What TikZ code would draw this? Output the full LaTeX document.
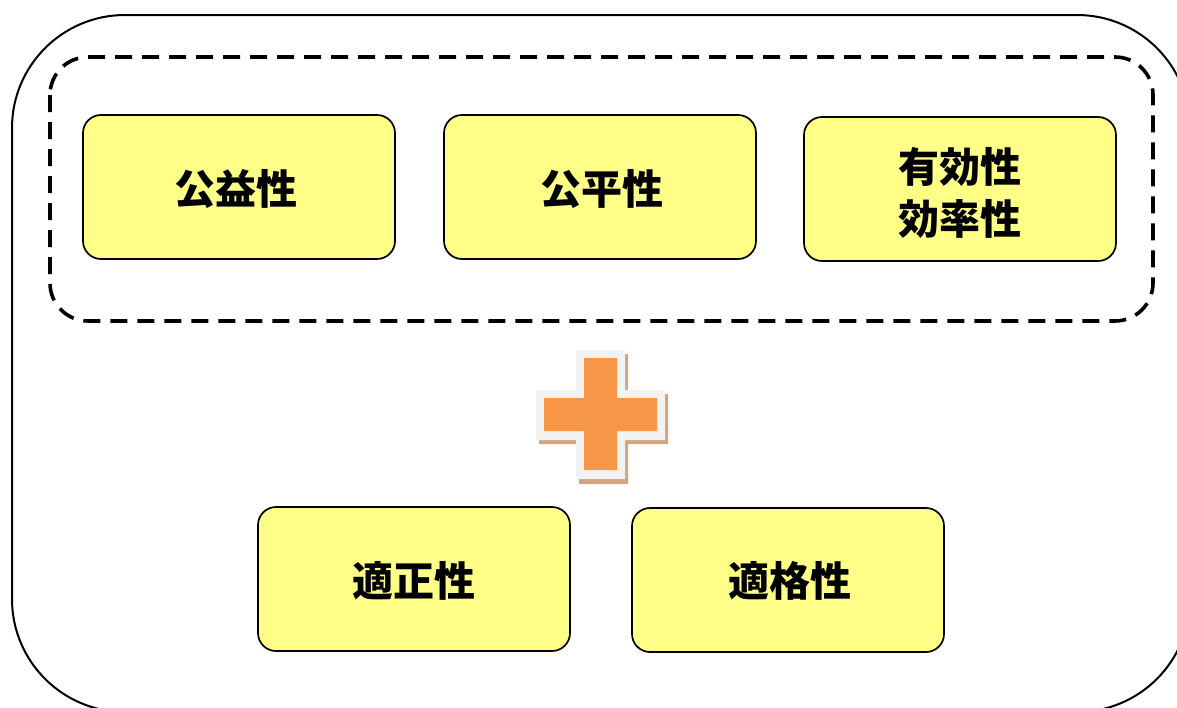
\documentclass[tikz,border=0pt]{standalone}
\usepackage{fontspec}
\newfontfamily\jp{Noto Sans CJK JP}
\definecolor{boxyellow}{HTML}{FFFF88}
\definecolor{crossorange}{HTML}{F79646}
\definecolor{crossrim}{HTML}{F2F2F2}
\definecolor{crossshadow}{HTML}{D3A57F}
\tikzset{
  ybox/.style={draw=black, line width=1.7pt, fill=boxyellow, rounded corners=18pt,
    minimum width=312pt, minimum height=144pt, inner sep=0pt, outer sep=0pt},
  lbl/.style={font=\jp\bfseries\fontsize{41pt}{52pt}\selectfont, align=center, text=black}
}
\begin{document}
\begin{tikzpicture}[x=1pt,y=-1pt]
\useasboundingbox (0,0) rectangle (1177,707);
\clip (0,0) rectangle (1177,707);
% outer frame
\draw[line width=2pt, rounded corners=113pt] (12,15) rectangle (1190,712);
% dashed group
\draw[line width=3.6pt, dash pattern=on 17pt off 10pt, rounded corners=38pt] (50,57) rectangle (1153,321);
% boxes
\node[ybox] (b1) at (239,187) {};
\node[ybox] (b2) at (600,187) {};
\node[ybox] (b3) at (960,189) {};
\node[ybox] (b4) at (414,579) {};
\node[ybox] (b5) at (788,580) {};
\node[lbl] (t1) at (236,189) {公益性};
\node[lbl] (t2) at (602,189) {公平性};
\node[lbl] (t3) at (960,193) {有効性\\効率性};
\node[lbl] (t4) at (414,581) {適正性};
\node[lbl] (t5) at (790,581) {適格性};
% plus sign
\fill[crossshadow] (579,354) -- (628,354) -- (628,394) -- (668,394) -- (668,444) -- (628,444) -- (628,484) -- (579,484) -- (579,444) -- (539,444) -- (539,394) -- (579,394) -- cycle;
\fill[crossrim] (576,350) -- (625,350) -- (625,390) -- (665,390) -- (665,440) -- (625,440) -- (625,479) -- (576,479) -- (576,440) -- (536,440) -- (536,390) -- (576,390) -- cycle;
\fill[crossorange] (584,358) -- (617,358) -- (617,398) -- (657,398) -- (657,431) -- (617,431) -- (617,470) -- (584,470) -- (584,431) -- (544,431) -- (544,398) -- (584,398) -- cycle;
\end{tikzpicture}
\end{document}
